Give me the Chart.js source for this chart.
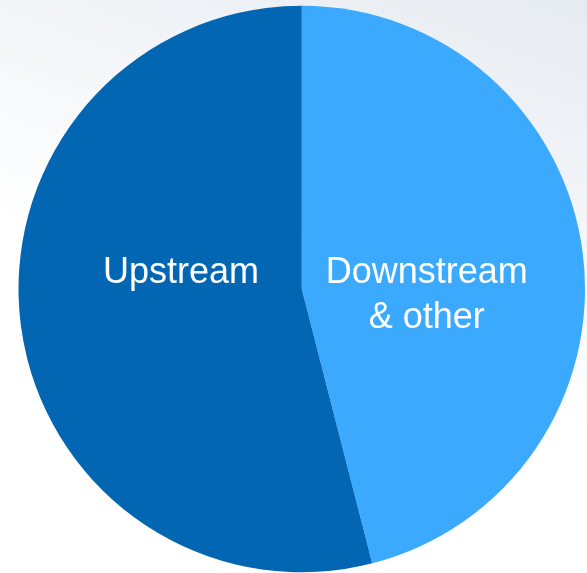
<!DOCTYPE html>
<html>
<head>
<meta charset="utf-8">
<script src="https://cdn.jsdelivr.net/npm/chart.js@4"></script>
<style>
  html, body { margin: 0; padding: 0; }
  body {
    width: 587px; height: 573px; overflow: hidden;
    background: linear-gradient(200deg, #e6ebf1 0%, #f4f6f9 30%, #ffffff 55%);
  }
  #wrap { position: relative; width: 587px; height: 573px; }
</style>
</head>
<body>
<div id="wrap"><canvas id="pie"></canvas></div>
<script>
// segments, clockwise from 12 o'clock
const segments = ['Downstream & other', 'Upstream'];
const shares = [46, 54];
const segmentColors = ['#3BA9FE', '#0366B2'];

// label lines per segment + where to put them
const labelLines = [['Downstream', '& other'], ['Upstream']];
const labelRadius = [0.445, 0.43];  // fraction of outer radius along the mid angle
const labelBaseline = [-6, -6];     // first baseline, relative to pie centre

const sliceLabels = {
  id: 'sliceLabels',
  afterDatasetsDraw(chart) {
    const ctx = chart.ctx;
    const arcs = chart.getDatasetMeta(0).data;
    ctx.save();
    ctx.fillStyle = '#ffffff';
    ctx.font = '36px "Liberation Sans", Arial, sans-serif';
    ctx.textAlign = 'center';
    ctx.textBaseline = 'alphabetic';
    arcs.forEach((arc, i) => {
      const p = arc.getProps(['x', 'y', 'startAngle', 'endAngle', 'outerRadius'], true);
      const mid = (p.startAngle + p.endAngle) / 2;
      const x = p.x + Math.cos(mid) * p.outerRadius * labelRadius[i];
      let y = p.y + labelBaseline[i];
      labelLines[i].forEach(line => {
        ctx.fillText(line, x, y);
        y += 45;
      });
    });
    ctx.restore();
  }
};

new Chart(document.getElementById('pie'), {
  type: 'pie',
  data: {
    labels: segments,
    datasets: [{
      data: shares,
      backgroundColor: segmentColors,
      borderWidth: 0
    }]
  },
  options: {
    responsive: true,
    maintainAspectRatio: false,
    animation: false,
    layout: { padding: { left: 18.5, right: 2, top: 5, bottom: 0 } },
    plugins: {
      legend: { display: false },
      tooltip: { enabled: false }
    }
  },
  plugins: [sliceLabels]
});
</script>
</body>
</html>
